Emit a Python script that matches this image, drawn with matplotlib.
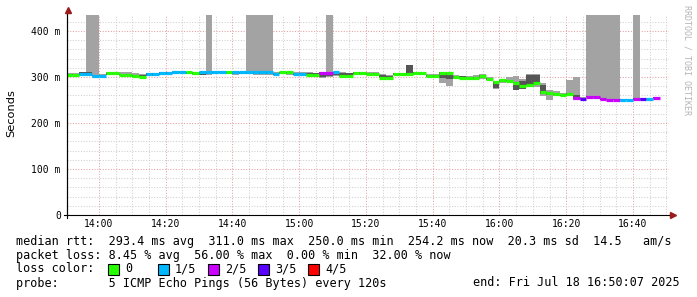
import matplotlib
matplotlib.use("Agg")
import matplotlib.pyplot as plt
from matplotlib.patches import Rectangle
from matplotlib.lines import Line2D

W, H = 697, 297
MONO = "DejaVu Sans Mono"

# minutes relative to 14:00, one step = 2 min (first step starts 13:50)
step_start = -10
step = 2

median = [305, 305, 306, 306, 303, 303, 308, 308, 305, 305,
          302, 301, 306, 307, 309, 309, 311, 312, 311, 309,
          310, 310, 312, 312, 312, 310, 310, 310, 310, 310,
          310, 307, 310, 310, 307, 307, 305, 305, 309, 309,
          310, 303, 303, 309, 309, 307, 307, 299, 299, 307,
          307, 306, 308, 308, 303, 303, 308, 308, 300, 299,
          299, 297, 302, 295, 290, 293, 291, 286, 280, 283,
          286, 268, 266, 263, 260, 263, 254, 253, 257, 257,
          252, 251, 251, 251, 251, 252, 252, 252, 255]
loss = [0, 0, 1, 1, 1, 1, 0, 0, 0, 0,
        0, 0, 1, 1, 1, 1, 1, 1, 0, 0,
        1, 1, 1, 1, 0, 1, 1, 1, 1, 1,
        1, 1, 0, 0, 1, 1, 0, 0, 2, 2,
        1, 0, 0, 0, 0, 0, 0, 0, 0, 0,
        0, 0, 0, 0, 0, 0, 0, 0, 0, 0,
        0, 0, 0, 0, 0, 0, 0, 0, 0, 0,
        0, 0, 0, 0, 0, 0, 2, 3, 2, 2,
        2, 2, 2, 1, 1, 2, 3, 1, 2]
smoke_lo = [303, 303, 303, 303, 301, 301, 304, 304, 303, 303,
            300, 300, 303, 302, 304, 305, 307, 308, 306, 305,
            304, 305, 307, 308, 307, 305, 306, 306, 305, 305,
            305, 304, 306, 305, 304, 305, 303, 300, 299, 300,
            303, 300, 301, 305, 305, 304, 305, 297, 296, 304,
            304, 304, 305, 305, 300, 300, 288, 281, 296, 296,
            296, 294, 296, 293, 274, 287, 289, 279, 277, 280,
            278, 258, 250, 258, 258, 258, 250, 251, 255, 255,
            250, 249, 249, 249, 249, 250, 250, 250, 253]
smoke_hi = [308, 308, 310, 440, 440, 306, 310, 310, 311, 311,
            308, 307, 309, 309, 311, 311, 313, 313, 312, 311,
            312, 440, 313, 313, 313, 312, 312, 440, 440, 440,
            440, 311, 312, 311, 310, 310, 310, 309, 311, 440,
            312, 310, 309, 311, 311, 311, 311, 306, 304, 309,
            309, 326, 311, 310, 306, 306, 311, 310, 304, 303,
            303, 304, 306, 300, 292, 295, 301, 303, 295, 307,
            307, 287, 271, 270, 265, 294, 300, 256, 440, 440,
            440, 440, 440, 253, 253, 440, 254, 254, 257]
dark_lo = [304, 304, 305, 305, 302, 302, 305, 306, 304, 304,
           301, 301, 303, 303, 305, 306, 308, 309, 307, 306,
           305, 306, 308, 309, 309, 307, 307, 307, 307, 307,
           307, 305, 307, 306, 305, 306, 304, 302, 301, 303,
           305, 302, 302, 306, 306, 305, 305, 298, 298, 305,
           305, 305, 306, 306, 301, 301, 298, 295, 297, 297,
           297, 296, 298, 294, 276, 289, 290, 271, 273, 282,
           282, 264, 262, 261, 259, 260, 252, 252, 256, 256,
           251, 250, 250, 250, 250, 251, 251, 251, 254]
dark_hi = [306, 306, 310, 310, 305, 304, 309, 309, 307, 307,
           305, 304, 308, 308, 310, 310, 312, 312, 311, 310,
           311, 311, 312, 312, 312, 311, 311, 311, 311, 311,
           311, 309, 311, 311, 308, 308, 309, 308, 310, 310,
           311, 309, 308, 310, 310, 309, 309, 304, 302, 308,
           308, 326, 310, 309, 305, 305, 310, 309, 303, 302,
           301, 300, 305, 298, 290, 294, 294, 283, 291, 305,
           305, 283, 268, 264, 261, 265, 262, 255, 259, 259,
           254, 253, 253, 252, 252, 254, 253, 253, 256]

loss_labels = ["0", "1/5", "2/5", "3/5", "4/5"]
loss_colors = ["#26ff00", "#00b8ff", "#cc00ff", "#5a00ff", "#ff0000"]

x_major = [0, 20, 40, 60, 80, 100, 120, 140, 160]
x_labels = ["14:00", "14:20", "14:40", "15:00", "15:20", "15:40", "16:00", "16:20", "16:40"]
y_major = [0, 100, 200, 300, 400]
y_labels = ["0", "100 m", "200 m", "300 m", "400 m"]

stats_line = "median rtt:  293.4 ms avg  311.0 ms max  250.0 ms min  254.2 ms now  20.3 ms sd  14.5   am/s"
loss_line = "packet loss: 8.45 % avg  56.00 % max  0.00 % min  32.00 % now"
probe_line = "probe:       5 ICMP Echo Pings (56 Bytes) every 120s"
end_line = "end: Fri Jul 18 16:50:07 2025"

fig = plt.figure(figsize=(W / 100, H / 100), dpi=100)
fig.patch.set_facecolor("white")

# plot area in pixels: x 67..669, y 14.7..215
ax = fig.add_axes([67 / W, (H - 215) / H, 602 / W, 200.5 / H])
ax.set_xlim(-9.59, 170.8)
ax.set_ylim(0, 436)

starts = [step_start + step * i for i in range(len(median))]

ax.bar(starts, [h - l for l, h in zip(smoke_lo, smoke_hi)], bottom=smoke_lo,
       width=step, align="edge", color="#a3a3a3", linewidth=0, zorder=2)
ax.bar(starts, [h - l for l, h in zip(dark_lo, dark_hi)], bottom=dark_lo,
       width=step, align="edge", color="#555555", linewidth=0, zorder=3)
ax.hlines(median, starts, [s + step for s in starts],
          colors=[loss_colors[k] for k in loss], linewidth=2.3, zorder=4)

# grid
for v in range(0, 171, 5):
    major = v % 20 == 0
    ax.axvline(v, color="#e6a0a0" if major else "#cfcfcf", lw=0.75,
               ls=(0, (1, 1.6)), zorder=1)
for v in range(20, 436, 20):
    major = v % 100 == 0
    ax.axhline(v, color="#e6a0a0" if major else "#cfcfcf", lw=0.75,
               ls=(0, (1, 1.6)), zorder=1)

ax.set_xticks(x_major)
ax.set_xticklabels(x_labels, fontfamily=MONO, fontsize=7)
ax.set_yticks(y_major)
ax.set_yticklabels(y_labels, fontfamily=MONO, fontsize=7)
ax.tick_params(length=0, pad=4.5)
ax.tick_params(axis="x", pad=3)

for s in ["top", "right"]:
    ax.spines[s].set_visible(False)
for s in ["left", "bottom"]:
    ax.spines[s].set_color("black")
    ax.spines[s].set_linewidth(0.8)
    ax.spines[s].set_zorder(5)

# axis overhangs and arrows
fig.add_artist(Line2D([64 / W, 67 / W], [(H - 215) / H] * 2, color="black", lw=0.8))
fig.add_artist(Line2D([67 / W] * 2, [(H - 215) / H, (H - 218) / H], color="black", lw=0.8))
fig.add_artist(Line2D([67 / W] * 2, [(H - 215) / H, (H - 12) / H], color="black", lw=0.8))
fig.add_artist(Line2D([669 / W, 672 / W], [(H - 215) / H] * 2, color="black", lw=0.8))
fig.add_artist(Line2D([67.5 / W], [(H - 10) / H], marker="^", ms=4.5, color="#9b1c1c", lw=0))
fig.add_artist(Line2D([672.5 / W], [(H - 215) / H], marker=">", ms=4.5, color="#9b1c1c", lw=0))

fig.text(11 / W, 1 - 113 / H, "Seconds", rotation=90, ha="center", va="center",
         fontfamily="DejaVu Sans", fontsize=8.2)
fig.text(687 / W, 1 - 5 / H, "RRDTOOL / TOBI OETIKER", rotation=270, ha="center", va="top",
         fontfamily=MONO, fontsize=6, color="#b4b4b4")

# legend
fs = 8.5
fig.text(16 / W, 1 - 241 / H, stats_line, fontfamily=MONO, fontsize=fs, va="center")
fig.text(16 / W, 1 - 255 / H, loss_line, fontfamily=MONO, fontsize=fs, va="center")
fig.text(16 / W, 1 - 269 / H, "loss color:", fontfamily=MONO, fontsize=fs, va="center")
for k, (lab, col) in enumerate(zip(loss_labels, loss_colors)):
    x0 = 108 + 50 * k
    fig.add_artist(Rectangle((x0 / W, (H - 274.5) / H), 11 / W, 11 / H,
                             facecolor=col, edgecolor="black", lw=0.8,
                             transform=fig.transFigure))
    fig.text((x0 + 17) / W, 1 - 269 / H, lab, fontfamily=MONO, fontsize=fs, va="center")
fig.text(16 / W, 1 - 283 / H, probe_line, fontfamily=MONO, fontsize=fs, va="center")
fig.text(680 / W, 1 - 283 / H, end_line, fontfamily=MONO, fontsize=fs, va="center", ha="right")

fig.savefig("out.png", dpi=100, facecolor="white")
